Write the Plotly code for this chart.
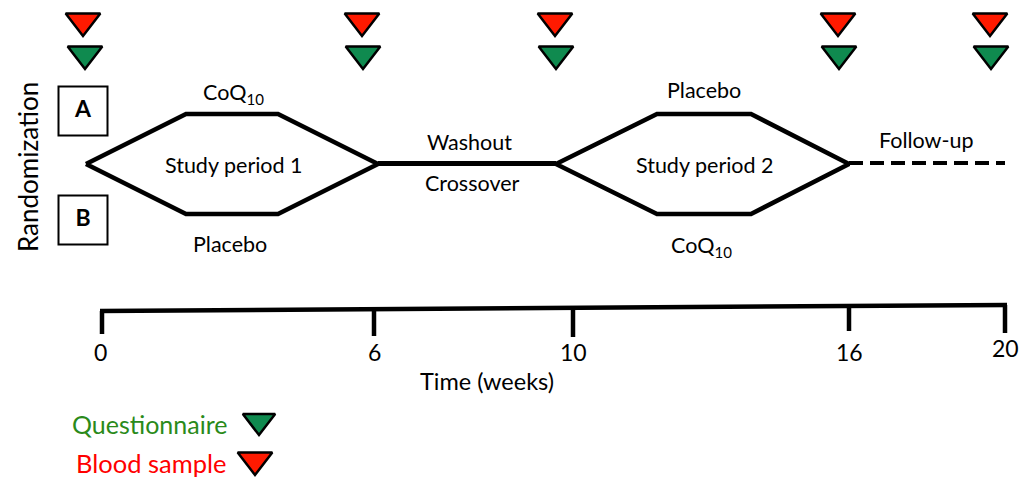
import plotly.graph_objects as go

FONT = "Lato"

# ---- timeline (weeks) ----
weeks = [0, 6, 10, 16, 20]
tick_labels = ["0", "6", "10", "16", "20"]
tick_x = [102, 374, 573, 849, 1005]
tick_top = [311, 309, 308, 306, 305]
tick_bottom = [334, 336, 337, 331, 333]
axis_x = [100, 1007]
axis_y = [311, 305]

# ---- visits: blood sample (red) and questionnaire (green) ----
blood_x = [83, 362, 555, 838, 990]
quest_x = [85, 363, 556, 839, 991]
blood_row_y = 21
quest_row_y = 54

# ---- study periods (hexagons) ----
period_names = ["Study period 1", "Study period 2"]
period_left = [86, 556]
period_right = [378, 849]
arm_left = [186, 657]
arm_right = [278, 751]
arm_top_y = 114
arm_bottom_y = 214
mid_y = 164
top_arm_labels = ["CoQ<sub>10</sub>", "Placebo"]
bottom_arm_labels = ["Placebo", "CoQ<sub>10</sub>"]

# ---- randomization boxes ----
box_labels = ["A", "B"]
box_x = [83, 83]
box_y = [111, 220]

RED = "#ff1a00"
GREEN = "#0f8a4f"
LW = 4.5

fig = go.Figure()

# hexagons
for i in range(2):
    fig.add_trace(go.Scatter(
        x=[period_left[i], arm_left[i], arm_right[i], period_right[i], arm_right[i], arm_left[i], period_left[i]],
        y=[mid_y, arm_top_y, arm_top_y, mid_y, arm_bottom_y, arm_bottom_y, mid_y],
        mode="lines", line=dict(color="black", width=LW), hoverinfo="skip"))

# washout line
fig.add_trace(go.Scatter(x=[period_right[0], period_left[1]], y=[mid_y - 0.5, mid_y - 0.5],
                         mode="lines", line=dict(color="black", width=5), hoverinfo="skip"))
# follow-up dashed line
fig.add_trace(go.Scatter(x=[period_right[1], tick_x[-1]], y=[mid_y - 1, mid_y - 1],
                         mode="lines", line=dict(color="black", width=4, dash="14px,7px"), hoverinfo="skip"))

# timeline axis
fig.add_trace(go.Scatter(x=axis_x, y=axis_y, mode="lines",
                         line=dict(color="black", width=LW), hoverinfo="skip"))
tx, ty = [], []
for x, t, b in zip(tick_x, tick_top, tick_bottom):
    tx += [x, x, None]
    ty += [t, b, None]
fig.add_trace(go.Scatter(x=tx, y=ty, mode="lines", line=dict(color="black", width=LW), hoverinfo="skip"))

# visit markers
fig.add_trace(go.Scatter(x=blood_x, y=[blood_row_y] * len(blood_x), mode="markers",
                         marker=dict(symbol="triangle-down", size=30, color=RED,
                                     line=dict(color="black", width=2.5)), hoverinfo="skip"))
fig.add_trace(go.Scatter(x=quest_x, y=[quest_row_y] * len(quest_x), mode="markers",
                         marker=dict(symbol="triangle-down", size=30, color=GREEN,
                                     line=dict(color="black", width=2.5)), hoverinfo="skip"))

# legend markers
fig.add_trace(go.Scatter(x=[259], y=[421], mode="markers",
                         marker=dict(symbol="triangle-down", size=28, color=GREEN,
                                     line=dict(color="black", width=2.5)), hoverinfo="skip"))
fig.add_trace(go.Scatter(x=[255], y=[460], mode="markers",
                         marker=dict(symbol="triangle-down", size=30, color=RED,
                                     line=dict(color="black", width=2.5)), hoverinfo="skip"))

# randomization boxes
fig.add_trace(go.Scatter(x=box_x, y=box_y, mode="markers+text", text=["<b>%s</b>" % s for s in box_labels],
                         textposition="middle center",
                         textfont=dict(family=FONT, size=23, color="black"),
                         marker=dict(symbol="square", size=49, color="white",
                                     line=dict(color="black", width=2)), hoverinfo="skip"))

ann = []
def txt(x, y, s, size=21.5, color="black", **kw):
    ann.append(dict(x=x, y=y, text=s, showarrow=False, xref="x", yref="y",
                    font=dict(family=FONT, size=size, color=color), **kw))

centers = [(l + r) / 2 for l, r in zip(period_left, period_right)]
for i in range(2):
    txt(centers[i] + 2, mid_y + 1, period_names[i])
for c, s, y in zip([233, 704], top_arm_labels, [93, 90]):
    txt(c, y, s)
for c, s, y in zip([230, 701], bottom_arm_labels, [244, 246]):
    txt(c, y, s)
txt(469, 142, "Washout")
txt(472, 183, "Crossover")
txt(926, 140, "Follow-up")
for x, s in zip(tick_x, tick_labels):
    txt(x - 2 if x == tick_x[0] else x, 352 if x != tick_x[-1] else 348, s, size=23)
txt(487, 381, "Time (weeks)", size=23.5)
txt(28, 167, "Randomization", size=26, textangle=-90)
txt(229, 424, "Questionnaire", size=25, color="#2a8a1a", xanchor="right")
txt(228, 463, "Blood sample", size=25.5, color="#ff0000", xanchor="right")

fig.update_layout(
    width=1021, height=480,
    margin=dict(l=0, r=0, t=0, b=0),
    paper_bgcolor="white", plot_bgcolor="white",
    showlegend=False,
    annotations=ann,
    xaxis=dict(range=[0, 1021], visible=False, fixedrange=True),
    yaxis=dict(range=[480, 0], visible=False, fixedrange=True),
)

fig.write_html("out.html", config={"displayModeBar": False},
               post_script="document.body.style.margin='0';document.body.style.overflow='hidden';")
